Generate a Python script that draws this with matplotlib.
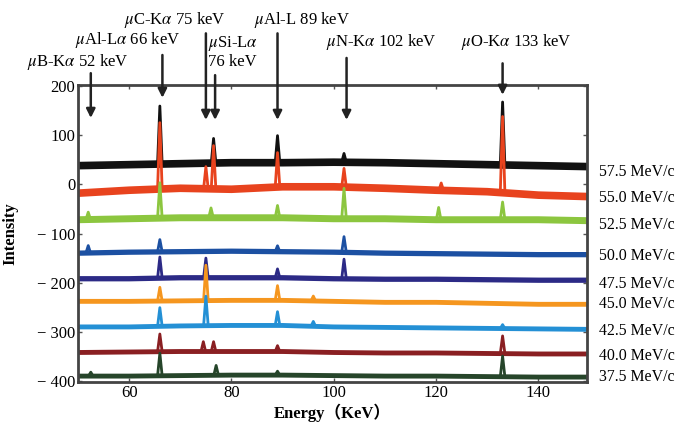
import numpy as np
import matplotlib
matplotlib.use("Agg")
import matplotlib.pyplot as plt

plt.rcParams['font.family'] = ['Liberation Serif', 'Noto Sans CJK SC']
plt.rcParams['mathtext.fontset'] = 'stix'

# momentum of each spectrum (top to bottom)
momenta = ["57.5", "55.0", "52.5", "50.0", "47.5", "45.0", "42.5", "40.0", "37.5"]

# baseline read every 10 keV (50 ... 150)
knots = [50, 60, 70, 80, 90, 100, 110, 120, 130, 140, 150]
base_575 = [38, 40, 42, 44, 44, 45, 44, 42, 40, 38, 36]
base_550 = [-18, -12, -8, -10, -5, -5, -8, -12, -15, -22, -25]
base_525 = [-72, -70, -68, -68, -68, -70, -70, -72, -72, -72, -74]
base_500 = [-140, -138, -137, -136, -137, -138, -140, -141, -142, -143, -143]
base_475 = [-192, -192, -190, -190, -190, -192, -193, -193, -194, -195, -195]
base_450 = [-238, -238, -237, -236, -236, -238, -240, -240, -242, -244, -244]
base_425 = [-290, -290, -288, -287, -287, -290, -291, -292, -293, -294, -295]
base_400 = [-342, -341, -340, -340, -340, -342, -343, -343, -344, -345, -345]
base_375 = [-390, -390, -389, -388, -388, -389, -390, -390, -391, -392, -392]

# peak positions (keV) and heights above baseline
pk_575 = ([66, 76.5, 89, 102, 133], [118, 50, 55, 18, 128])
pk_550 = ([66, 75, 76.5, 89, 102, 121, 133], [135, 45, 88, 70, 38, 15, 155])
pk_525 = ([52, 66, 76, 89, 102, 120.5, 133], [15, 72, 20, 25, 62, 25, 36])
pk_500 = ([52, 66, 89, 102], [15, 25, 12, 32])
pk_475 = ([66, 75, 89, 102], [43, 40, 18, 40])
pk_450 = ([66, 75, 89, 96], [28, 72, 30, 10])
pk_425 = ([66, 75, 89, 96, 133], [38, 60, 28, 10, 8])
pk_400 = ([66, 74.5, 76.5, 89, 133], [36, 20, 20, 12, 36])
pk_375 = ([52.5, 66, 77, 89, 133], [8, 46, 20, 8, 42])

baselines = [base_575, base_550, base_525, base_500, base_475,
             base_450, base_425, base_400, base_375]
peaks = [pk_575, pk_550, pk_525, pk_500, pk_475,
         pk_450, pk_425, pk_400, pk_375]

# muonic X-ray lines marked on top
line_names = [r"$\mu$B-K$\alpha$ 52 keV", r"$\mu$Al-L$\alpha$ 66 keV",
              r"$\mu$C-K$\alpha$ 75 keV", "$\\mu$Si-L$\\alpha$\n76 keV",
              r"$\mu$Al-L 89 keV", r"$\mu$N-K$\alpha$ 102 keV",
              r"$\mu$O-K$\alpha$ 133 keV"]
line_energy = [52.5, 66.5, 75, 76.8, 89, 102.5, 133]

colors = ['#111111', '#e8431e', '#8cc63f', '#1c50a2', '#2c2a86',
          '#f5961f', '#2490d5', '#8a1f22', '#26452a']
band_widths = [5.5, 5.5, 5.0, 3.8, 3.8, 3.5, 3.5, 3.5, 3.5]

fig = plt.figure(figsize=(6.87, 4.25), dpi=100)
ax = fig.add_axes([78 / 687, 1 - 382 / 425, 509 / 687, 297 / 425])

for base, (px, ph), c, bw in zip(baselines, peaks, colors, band_widths):
    px = np.array(px, dtype=float)
    ph = np.array(ph, dtype=float)
    xs = np.concatenate([knots, px - 0.45, px, px + 0.45])
    order = np.argsort(xs, kind='stable')
    ys = np.interp(xs, knots, base)
    ys[len(knots) + len(px):len(knots) + 2 * len(px)] += ph
    # noisy band along the baseline, then the narrow peaks
    ax.plot(knots, base, color=c, lw=bw, solid_capstyle='butt')
    ax.plot(xs[order], ys[order], color=c, lw=2.0)

ax.set_xlim(50, 149.5)
ax.set_ylim(-402, 202)
ax.set_xticks([60, 80, 100, 120, 140])
ax.set_yticks([-400, -300, -200, -100, 0, 100, 200])
ax.set_yticklabels(["\u2212 400", "\u2212 300", "\u2212 200", "\u2212 100", "0", "100", "200"])
ax.tick_params(direction='in', top=True, right=True, length=3, width=1,
               labelsize=12, pad=2, color='#555555')
for s in ax.spines.values():
    s.set_linewidth(2)
    s.set_color('#444444')

ax.set_xlabel("Energy（KeV）", fontsize=12, fontweight='bold', labelpad=2)
ax.set_ylabel("Intensity", fontsize=12, fontweight='bold')
ax.yaxis.set_label_coords(-0.118, 0.5)

# momentum labels on the right
label_y = [26, -28, -83, -145, -202, -244, -299, -349, -392]
for m, yv in zip(momenta, label_y):
    ax.text(1.023, yv, m + " MeV/c", transform=ax.get_yaxis_transform(),
            fontsize=11.4, ha='left', va='center')

# arrows and line labels
arrow_from = [226, 263, 307, 222, 307, 257, 246]
arrow_to = [135, 176, 131, 131, 131, 131, 182]
text_xy = [(78, 62), (128, 40), (175, 20), (208, 52), (302, 20), (381, 42), (516, 42)]
for i, (name, e) in enumerate(zip(line_names, line_energy)):
    ax.annotate('', xy=(e, arrow_to[i]), xytext=(e, arrow_from[i]),
                annotation_clip=False,
                arrowprops=dict(arrowstyle='-|>', color='#222222', lw=1.8,
                                mutation_scale=13, shrinkA=0, shrinkB=0))
    tx, ty = text_xy[i]
    ha = 'left' if '\n' in name else 'center'
    fig.text(tx / 687, 1 - ty / 425, name, fontsize=12, ha=ha, va='center',
             linespacing=1.05)

fig.savefig("out.png", dpi=100)
